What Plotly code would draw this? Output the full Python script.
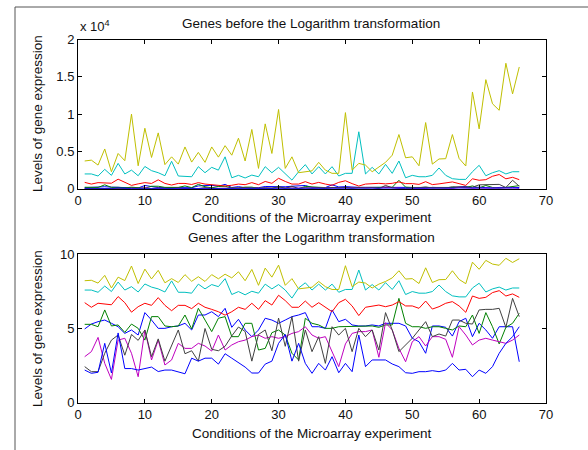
import numpy as np
import plotly.graph_objects as go

conditions = list(range(1, 67))

# log-transformed gene expression levels (natural log)
gene_blue1 = [4.97, 5.30, 5.46, 5.57, 5.35, 5.12, 4.67, 4.90, 4.56, 6.07,
              5.57, 5.01, 5.01, 5.12, 5.17, 5.35, 4.90, 5.91, 5.91, 6.13,
              5.80, 6.36, 5.08, 5.62, 4.90, 4.45, 4.90, 5.69, 5.57, 5.35,
              5.57, 5.80, 5.91, 6.07, 5.12, 5.12, 5.01, 6.25, 5.46, 5.62,
              5.24, 5.17, 5.17, 5.24, 5.17, 5.35, 5.35, 5.35, 5.17, 4.34,
              4.11, 3.33, 5.17, 5.17, 5.08, 4.49, 5.46, 5.69, 4.45, 5.35,
              4.90, 4.34, 5.12, 5.12, 5.12, 2.76]
gene_green = [5.28, 5.28, 5.12, 6.25, 5.17, 5.24, 4.74, 5.30, 5.01, 4.22,
              5.80, 5.80, 5.17, 5.12, 5.17, 5.91, 4.97, 6.36, 5.57, 4.79,
              5.69, 5.80, 4.45, 4.45, 5.35, 5.35, 3.55, 3.66, 4.72, 4.90,
              4.56, 3.33, 2.88, 5.69, 5.35, 5.24, 5.01, 5.01, 5.12, 5.12,
              5.12, 5.17, 5.17, 5.17, 5.08, 5.24, 5.24, 7.03, 5.35, 5.12,
              5.12, 5.01, 5.12, 5.12, 5.01, 4.90, 5.17, 5.12, 5.91, 4.67,
              6.07, 5.12, 3.96, 5.08, 5.35, 6.02]
gene_red = [6.74, 6.43, 6.70, 6.65, 6.60, 7.15, 6.74, 6.10, 6.47, 6.70,
            6.56, 7.08, 6.56, 6.20, 6.56, 6.56, 6.34, 6.70, 6.43, 6.29,
            6.13, 5.90, 6.13, 6.43, 6.29, 6.70, 6.29, 6.88, 6.58, 7.24,
            6.88, 6.43, 6.43, 6.85, 6.43, 6.74, 6.43, 6.13, 6.74, 6.97,
            6.52, 5.87, 6.43, 6.52, 6.58, 6.47, 6.58, 6.81, 6.52, 6.52,
            6.36, 6.85, 6.31, 6.47, 6.70, 6.81, 6.52, 6.09, 7.19, 7.03,
            7.10, 7.42, 7.55, 7.19, 7.33, 7.10]
gene_cyan = [7.59, 7.59, 7.44, 7.86, 7.49, 8.13, 7.59, 7.82, 7.46, 8.00,
             7.79, 7.67, 7.46, 8.21, 7.44, 7.44, 7.38, 7.99, 7.67, 7.96,
             7.82, 8.36, 7.29, 7.49, 7.27, 7.51, 7.38, 7.99, 7.67, 7.96,
             7.59, 7.05, 7.73, 8.08, 7.59, 7.99, 7.59, 7.99, 7.44, 7.63,
             7.63, 8.94, 7.59, 7.96, 7.59, 8.09, 7.63, 8.22, 7.29, 7.49,
             7.38, 7.38, 7.49, 7.93, 7.49, 7.20, 7.13, 7.13, 7.73, 8.05,
             7.46, 7.67, 7.79, 7.59, 7.73, 7.73]
gene_magenta = [3.10, 3.44, 4.40, 2.65, 1.57, 4.22, 4.34, 3.33, 1.75, 4.90,
                2.88, 4.22, 2.54, 2.88, 4.00, 3.66, 3.66, 4.00, 3.82, 3.48,
                4.56, 3.55, 3.89, 4.11, 4.22, 4.45, 4.56, 4.34, 4.45, 4.34,
                4.45, 4.67, 4.79, 5.12, 4.56, 4.34, 4.45, 3.44, 2.43, 3.96,
                4.67, 4.79, 4.79, 4.90, 3.06, 5.39, 4.90, 3.66, 2.76, 4.11,
                4.45, 3.82, 4.45, 4.45, 4.27, 3.06, 5.12, 4.56, 3.89, 4.22,
                4.34, 4.22, 4.11, 4.00, 4.22, 4.56]
gene_yellow = [8.22, 8.25, 8.06, 8.58, 7.73, 8.46, 8.23, 9.21, 8.03, 9.00,
               8.34, 8.92, 8.08, 8.36, 8.10, 8.63, 8.18, 8.49, 8.17, 8.63,
               8.35, 8.66, 8.41, 8.82, 8.22, 8.98, 7.91, 9.07, 8.46, 9.27,
               7.91, 8.36, 7.67, 7.73, 7.78, 8.17, 7.82, 7.63, 7.63, 9.23,
               7.82, 8.13, 8.06, 7.73, 7.99, 8.17, 8.41, 8.89, 8.33, 8.36,
               8.03, 9.09, 8.10, 8.29, 8.30, 8.89, 8.31, 8.02, 9.47, 8.99,
               9.59, 9.34, 9.26, 9.73, 9.45, 9.70]
gene_gray = [2.43, 2.09, 2.09, 3.33, 4.22, 4.56, 3.20, 4.60, 4.20, 4.90,
             3.10, 4.30, 2.80, 3.80, 4.90, 3.30, 3.50, 2.80, 5.00, 3.60,
             3.50, 3.80, 4.50, 5.10, 4.80, 2.80, 4.60, 4.90, 3.50, 5.70,
             3.80, 5.80, 2.80, 4.90, 3.44, 4.45, 2.65, 5.12, 4.56, 5.01,
             3.44, 5.01, 4.45, 4.90, 3.55, 6.07, 4.90, 3.44, 3.89, 4.34,
             4.90, 5.46, 4.45, 4.63, 4.49, 5.57, 5.57, 5.35, 5.30, 6.25,
             6.29, 6.29, 6.36, 5.08, 7.03, 5.80]
gene_blue2 = [2.20, 1.98, 2.05, 4.00, 2.00, 4.70, 2.30, 2.30, 2.20, 2.30,
              2.40, 2.10, 2.20, 2.20, 2.10, 1.95, 3.00, 2.80, 3.00, 3.00,
              2.60, 3.30, 3.00, 2.70, 2.40, 2.00, 2.00, 2.60, 2.80, 4.00,
              4.60, 2.80, 4.00, 2.65, 1.98, 2.65, 2.20, 3.10, 2.02, 2.65,
              2.09, 4.56, 2.43, 2.88, 2.88, 2.88, 2.61, 2.43, 2.02, 1.98,
              2.09, 2.09, 2.16, 2.09, 2.20, 2.65, 2.20, 2.25, 1.75, 2.20,
              1.98, 2.43, 3.33, 4.00, 4.45, 5.12]

genes = [gene_blue1, gene_green, gene_red, gene_cyan,
         gene_magenta, gene_yellow, gene_gray, gene_blue2]
colors = ["#0000ff", "#008000", "#ff0000", "#00bfbf",
          "#bf00bf", "#bfbf00", "#404040", "#0000ff"]

top_ticks = [0, 5000, 10000, 15000, 20000]
top_ticktext = ["0", "0.5", "1", "1.5", "2"]
x_ticks = [0, 10, 20, 30, 40, 50, 60, 70]
bottom_ticks = [0, 5, 10]

W, H = 588, 450
def px(x):
    return x / W
def py(y):
    return 1 - y / H

fig = go.Figure()
for g, c in zip(genes, colors):
    raw = np.exp(np.array(g))
    fig.add_trace(go.Scatter(x=conditions, y=raw, mode="lines",
                             line=dict(color=c, width=1), xaxis="x", yaxis="y",
                             showlegend=False, hoverinfo="skip"))
for g, c in zip(genes, colors):
    fig.add_trace(go.Scatter(x=conditions, y=g, mode="lines",
                             line=dict(color=c, width=1), xaxis="x2", yaxis="y2",
                             showlegend=False, hoverinfo="skip"))

FONT = "Arial, Liberation Sans, sans-serif"
TXT = "#111111"
axis_common = dict(showline=True, linecolor="#000000", linewidth=1, mirror="ticks",
                   ticks="inside", ticklen=4, tickcolor="#000000", showgrid=False,
                   zeroline=False, automargin=False,
                   tickfont=dict(family=FONT, size=13, color=TXT))

xdom = [px(78), px(546)]
fig.update_layout(
    width=W, height=H, margin=dict(l=0, r=0, t=0, b=0, pad=0, autoexpand=False),
    paper_bgcolor="white", plot_bgcolor="white",
    xaxis=dict(domain=xdom, range=[0, 70], tickvals=x_ticks, anchor="y", **axis_common),
    yaxis=dict(domain=[py(188.7), py(39.5)], range=[0, 20000], tickvals=top_ticks,
               ticktext=top_ticktext, anchor="x", **axis_common),
    xaxis2=dict(domain=xdom, range=[0, 70], tickvals=x_ticks, anchor="y2", **axis_common),
    yaxis2=dict(domain=[py(402.7), py(254.3)], range=[0, 10], tickvals=bottom_ticks,
                anchor="x2", **axis_common),
)

def ann(text, x, y, angle=0, size=13.5, xanchor="center"):
    fig.add_annotation(text=text, x=px(x), y=py(y), xref="paper", yref="paper",
                       showarrow=False, textangle=angle, xanchor=xanchor, yanchor="middle",
                       font=dict(family=FONT, size=size, color=TXT))

ann("Genes before the Logarithm transformation", 311, 23)
ann("Conditions of the Microarray experiment", 312, 217)
ann("Genes after the Logarithm transformation", 311, 238)
ann("Conditions of the Microarray experiment", 312, 433)
ann("Levels of gene expression", 37, 114, angle=-90)
ann("Levels of gene expression", 37, 329, angle=-90)
ann("x 10<sup>4</sup>", 78, 26, size=13, xanchor="left")

# window frame lines
fig.add_shape(type="line", xref="paper", yref="paper", x0=px(15), x1=1, y0=py(7), y1=py(7),
              line=dict(color="#555555", width=1))
fig.add_shape(type="line", xref="paper", yref="paper", x0=px(15), x1=px(15), y0=py(7), y1=0,
              line=dict(color="#555555", width=1))

fig.write_html("out.html")
